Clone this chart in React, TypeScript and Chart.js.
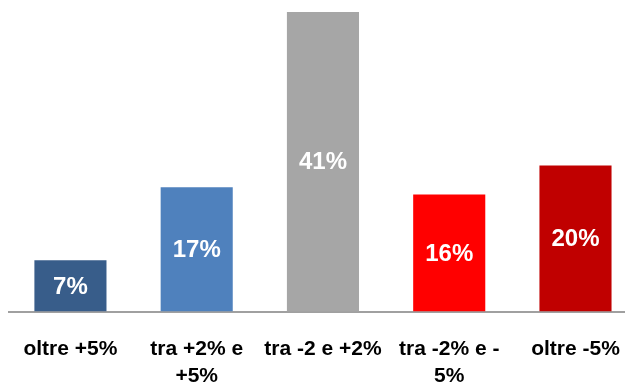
import React, { useEffect, useRef } from "react";
import { Chart, registerables } from "chart.js";

Chart.register(...registerables);

const categories: (string | string[])[] = [
  "oltre +5%",
  ["tra +2% e", "+5%"],
  "tra -2 e +2%",
  ["tra -2% e -", "5%"],
  "oltre -5%",
];
const values = [7, 17, 41, 16, 20];
const colors = ["#385D8A", "#4F81BD", "#A6A6A6", "#FF0000", "#C00000"];

const labelPlugin = {
  id: "inBarLabels",
  afterDatasetsDraw(chart: any) {
    const ctx = chart.ctx;
    const meta = chart.getDatasetMeta(0);
    ctx.save();
    ctx.fillStyle = "#FFFFFF";
    ctx.font = "bold 24px 'Liberation Sans', Arial, sans-serif";
    ctx.textAlign = "center";
    ctx.textBaseline = "middle";
    meta.data.forEach((bar: any, i: number) => {
      const v = values[i];
      const y = (bar.y + bar.base) / 2 + 1;
      ctx.fillText(`${v}%`, bar.x, y);
    });
    ctx.restore();
  },
};

export default function App() {
  const ref = useRef<HTMLCanvasElement | null>(null);
  useEffect(() => {
    document.body.style.overflow = "hidden";
    const chart = new Chart(ref.current!, {
      type: "bar",
      data: {
        labels: categories,
        datasets: [
          {
            data: values,
            backgroundColor: colors,
            categoryPercentage: 1,
            barPercentage: 0.571,
          },
        ],
      },
      options: {
        animation: false,
        responsive: false,
        layout: { padding: { top: 4, left: 0, right: 0, bottom: 0 } },
        plugins: { legend: { display: false }, tooltip: { enabled: false } },
        scales: {
          x: {
            grid: { display: false, drawTicks: false },
            border: { display: true, color: "#A0A0A0", width: 2 },
            ticks: {
              color: "#000000",
              font: { family: "'Liberation Sans', Arial, sans-serif", size: 21, weight: "bold", lineHeight: 1.25 },
              padding: 25,
              maxRotation: 0,
              autoSkip: false,
            },
          },
          y: {
            display: false,
            min: 0,
            max: 41,
          },
        },
      },
      plugins: [labelPlugin],
    });
    return () => chart.destroy();
  }, []);
  return (
    <div style={{ width: 645, height: 406, marginLeft: -9 }}>
      <canvas ref={ref} width={645} height={406} style={{ display: "block" }} />
    </div>
  );
}
